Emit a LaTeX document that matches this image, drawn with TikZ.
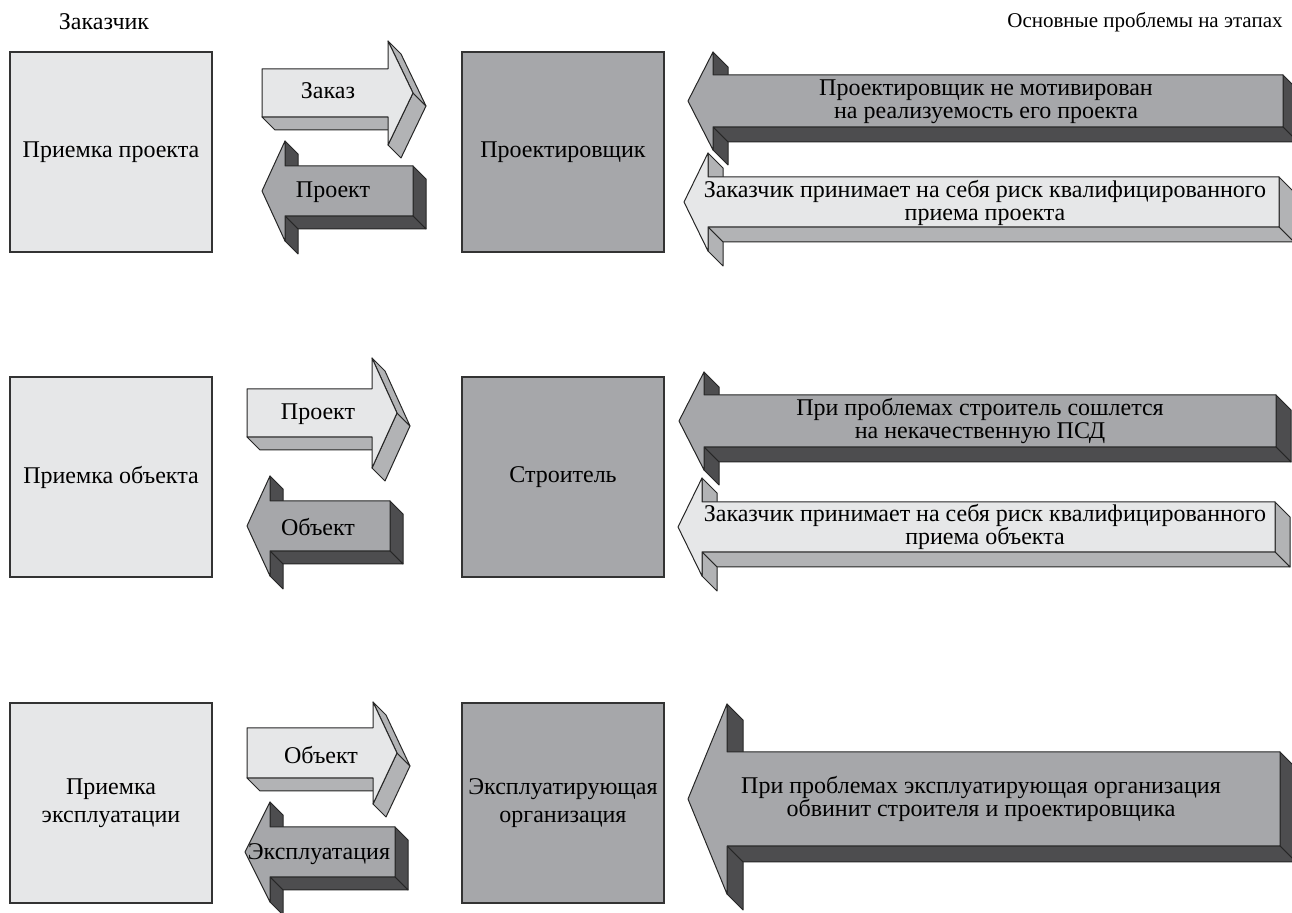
\documentclass[tikz,border=0pt]{standalone}
\usepackage{fontspec}
\setmainfont{Liberation Serif}

\definecolor{lightFill}{RGB}{230,231,232}
\definecolor{lightSide}{RGB}{178,179,181}
\definecolor{darkFill}{RGB}{166,167,170}
\definecolor{darkSide}{RGB}{77,77,79}

% 3D arrow pointing right: #1 tail x, #2 head base x, #3 tip x, #4 centre y,
% #5 half body, #6 half head, #7 front colour, #8 side colour, #9 depth
\newcommand{\rArrowShape}[9]{%
	\filldraw[sideFace, fill=#8] ({#1},{#4+#5}) -- ({#2},{#4+#5}) -- ({#2+#9},{#4+#5+#9}) -- ({#1+#9},{#4+#5+#9}) -- cycle;
	\filldraw[sideFace, fill=#8] ({#2},{#4+#6}) -- ({#3},{#4}) -- ({#3+#9},{#4+#9}) -- ({#2+#9},{#4+#6+#9}) -- cycle;
	\filldraw[sideFace, fill=#8] ({#2},{#4-#6}) -- ({#3},{#4}) -- ({#3+#9},{#4+#9}) -- ({#2+#9},{#4-#6+#9}) -- cycle;
	\filldraw[sideFace, fill=#7] ({#1},{#4-#5}) -- ({#2},{#4-#5}) -- ({#2},{#4-#6}) -- ({#3},{#4}) -- ({#2},{#4+#6}) -- ({#2},{#4+#5}) -- ({#1},{#4+#5}) -- cycle;
}
% 3D arrow pointing left, same arguments (#1 is the right end)
\newcommand{\lArrowShape}[9]{%
	\filldraw[sideFace, fill=#8] ({#1},{#4-#5}) -- ({#1},{#4+#5}) -- ({#1+#9},{#4+#5+#9}) -- ({#1+#9},{#4-#5+#9}) -- cycle;
	\filldraw[sideFace, fill=#8] ({#2},{#4+#5}) -- ({#1},{#4+#5}) -- ({#1+#9},{#4+#5+#9}) -- ({#2+#9},{#4+#5+#9}) -- cycle;
	\filldraw[sideFace, fill=#8] ({#2},{#4+#5}) -- ({#2},{#4+#6}) -- ({#2+#9},{#4+#6+#9}) -- ({#2+#9},{#4+#5+#9}) -- cycle;
	\filldraw[sideFace, fill=#8] ({#2},{#4-#6}) -- ({#2},{#4-#5}) -- ({#2+#9},{#4-#5+#9}) -- ({#2+#9},{#4-#6+#9}) -- cycle;
	\filldraw[sideFace, fill=#7] ({#1},{#4-#5}) -- ({#2},{#4-#5}) -- ({#2},{#4-#6}) -- ({#3},{#4}) -- ({#2},{#4+#6}) -- ({#2},{#4+#5}) -- ({#1},{#4+#5}) -- cycle;
}

\begin{document}
\begin{tikzpicture}[x=0.5pt, y=-0.5pt,
	sideFace/.style={draw=black!85, line width=0.5pt, line join=round},
	stageBox/.style={rectangle, draw=black!80, line width=0.6pt, minimum width=101pt, minimum height=100pt, inner sep=0pt, align=center, font=\fontsize{12}{14}\selectfont},
	arrowText/.style={align=center, inner sep=0pt, font=\fontsize{12}{11.5}\selectfont}]
	\useasboundingbox (0,0) rectangle (1292,913);

	\node[font=\fontsize{12}{14}\selectfont](customerLabel) at (104,22){Заказчик};
	\node[font=\fontsize{10.5}{12}\selectfont, anchor=east, inner sep=0pt](problemsLabel) at (1283,22){Основные проблемы на этапах};

	% draw customer boxes
	\node[stageBox, fill=lightFill](acceptDesign) at (111,152){Приемка проекта};
	\node[stageBox, fill=lightFill](acceptObject) at (111,477){Приемка объекта};
	\node[stageBox, fill=lightFill](acceptOperation) at (111,803){Приемка\\эксплуатации};

	% draw participant boxes
	\node[stageBox, fill=darkFill](designer) at (563,152){Проектировщик};
	\node[stageBox, fill=darkFill](builder) at (563,477){Строитель};
	\node[stageBox, fill=darkFill](operator) at (563,803){Эксплуатирующая\\организация};

	% draw row 1 arrows
	\rArrowShape{262}{388}{413}{93}{24}{52}{lightFill}{lightSide}{13}
	\node[arrowText](orderText) at (328,91){Заказ};
	\lArrowShape{413}{285}{262}{191}{25}{50}{darkFill}{darkSide}{13}
	\node[arrowText](designText) at (333,192){Проект};

	% draw row 2 arrows
	\rArrowShape{247}{372}{397}{413}{24}{55}{lightFill}{lightSide}{13}
	\node[arrowText](designText2) at (318,414){Проект};
	\lArrowShape{390}{270}{247}{526}{25}{50}{darkFill}{darkSide}{13}
	\node[arrowText](objectText) at (318,527){Объект};

	% draw row 3 arrows
	\rArrowShape{247}{373}{397}{753}{25}{51}{lightFill}{lightSide}{13}
	\node[arrowText](objectText2) at (321,755){Объект};
	\lArrowShape{395}{270}{245}{852}{25}{50}{darkFill}{darkSide}{13}
	\node[arrowText](operationText) at (319,854){Эксплуатация};

	% draw problem arrows
	\lArrowShape{1283}{713}{688}{101}{26}{49}{darkFill}{darkSide}{15}
	\node[arrowText](problem1) at (986,102){Проектировщик не мотивирован\\на реализуемость его проекта};
	\lArrowShape{1279}{708}{684}{202}{25}{49}{lightFill}{lightSide}{15}
	\node[arrowText](problem2) at (985,203){Заказчик принимает на себя риск квалифицированного\\приема проекта};
	\lArrowShape{1276}{704}{679}{421}{26}{49}{darkFill}{darkSide}{15}
	\node[arrowText](problem3) at (980,421){При проблемах строитель сошлется\\на некачественную ПСД};
	\lArrowShape{1275}{702}{678}{527}{25}{49}{lightFill}{lightSide}{15}
	\node[arrowText](problem4) at (985,527){Заказчик принимает на себя риск квалифицированного\\приема объекта};
	\lArrowShape{1280}{727}{688}{799}{47}{95}{darkFill}{darkSide}{16}
	\node[arrowText](problem5) at (981,799){При проблемах эксплуатирующая организация\\обвинит строителя и проектировщика};
\end{tikzpicture}
\end{document}
